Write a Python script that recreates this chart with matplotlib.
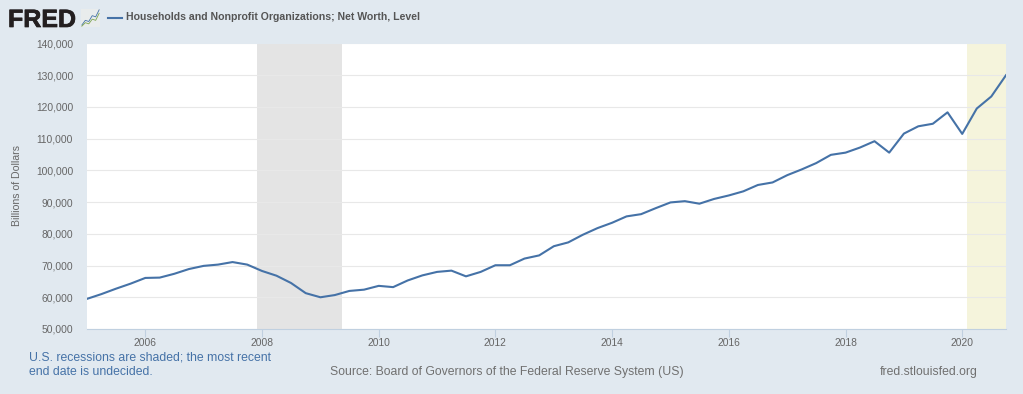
import pandas as pd
import matplotlib
matplotlib.use('Agg')
import matplotlib.pyplot as plt
import matplotlib.dates as mdates
import matplotlib.patheffects as pe
from matplotlib.ticker import FuncFormatter

plt.rcParams['font.family'] = ['Liberation Sans', 'DejaVu Sans']

quarters = pd.date_range('2005-01-01', '2020-10-01', freq='QS')
net_worth = [59500, 61000, 62700, 64300, 66100, 66200, 67400, 68900,
             69900, 70300, 71100, 70300, 68300, 66800, 64500, 61300,
             60000, 60700, 62000, 62400, 63600, 63200, 65300, 66900,
             68000, 68400, 66600, 68000, 70100, 70100, 72200, 73200,
             76100, 77300, 79700, 81800, 83500, 85500, 86200, 88100,
             89900, 90300, 89500, 91000, 92100, 93400, 95400, 96200,
             98500, 100300, 102300, 104900, 105600, 107200, 109200, 105600,
             111600, 113900, 114700, 118300, 111500, 119500, 123300, 130000]
recession = ['2007-12-01', '2009-05-15']
undecided = ['2020-02-01', '2020-10-01']
year_ticks = [2006, 2008, 2010, 2012, 2014, 2016, 2018, 2020]
y_ticks = [50000, 60000, 70000, 80000, 90000, 100000, 110000, 120000, 130000, 140000]

# small logo chart lines
logo_blue = [1, 3, 2.5, 5, 4.5, 7.5]
logo_green = [0.5, 2, 1.5, 3.5, 3, 6]

W, H = 1023, 394
BG = '#e1e9f0'
fig = plt.figure(figsize=(W / 100, H / 100), dpi=100, facecolor=BG)
ax = fig.add_axes([87 / W, 1 - 329 / H, (1006 - 87) / W, (329 - 43.5) / H])

ax.axvspan(pd.Timestamp(recession[0]), pd.Timestamp(recession[1]), color='#e4e4e4', lw=0, zorder=1)
ax.axvspan(pd.Timestamp(undecided[0]), pd.Timestamp(undecided[1]), color='#f5f4dc', lw=0, zorder=1)
ax.plot(quarters, net_worth, color='#4572a7', lw=1.5, zorder=3)

ax.set_xlim(pd.Timestamp('2005-01-01'), pd.Timestamp('2020-10-01'))
ax.set_ylim(50000, 140000)
ax.set_yticks(y_ticks)
ax.yaxis.set_major_formatter(FuncFormatter(lambda v, p: f'{int(v):,}'))
ax.set_xticks([pd.Timestamp(f'{y}-01-01') for y in year_ticks])
ax.xaxis.set_major_formatter(mdates.DateFormatter('%Y'))
ax.grid(axis='y', color='#e8e8e8', lw=0.8, zorder=2)
ax.set_axisbelow(False)
for s in ['top', 'right', 'left']:
    ax.spines[s].set_visible(False)
ax.spines['bottom'].set_color('#c0d0e0')
ax.spines['bottom'].set_linewidth(0.8)
ax.tick_params(axis='y', length=0, labelsize=7.4, labelcolor='#666666', pad=10)
ax.tick_params(axis='x', length=6, width=0.8, color='#c0d0e0', labelsize=7.4, labelcolor='#666666', pad=0.5)
ax.set_ylabel('Billions of Dollars', fontsize=7.55, color='#666666')
ax.yaxis.set_label_coords(-(87 - 22.5) / 919, 0.502)

# header
fig.text(8 / W, 1 - 27 / H, 'FRED', fontsize=18, fontweight='bold', color='#231f20', va='baseline',
         path_effects=[pe.withStroke(linewidth=0.5, foreground='#231f20')])
logo = fig.add_axes([81 / W, 1 - 27 / H, 19 / W, 18 / H], facecolor='#e9ecec')
logo.plot(logo_blue, color='#4572a7', lw=0.6)
logo.plot(logo_green, color='#7fa650', lw=0.6)
logo.set_xticks([])
logo.set_yticks([])
for s in logo.spines.values():
    s.set_visible(False)
fig.add_artist(plt.Line2D([108 / W, 122 / W], [1 - 17.5 / H] * 2, color='#4572a7', lw=1.5))
fig.text(126.5 / W, 1 - 17.5 / H, 'Households and Nonprofit Organizations; Net Worth, Level',
         fontsize=7.55, fontweight='bold', color='#555555', va='center')

# footer
fig.text(29 / W, 1 - 357 / H, 'U.S. recessions are shaded; the most recent', fontsize=8.8, color='#4572a7', va='center')
fig.text(29 / W, 1 - 372 / H, 'end date is undecided.', fontsize=8.8, color='#4572a7', va='center')
fig.text(330.5 / W, 1 - 372 / H, 'Source: Board of Governors of the Federal Reserve System (US)',
         fontsize=8.8, color='#707070', va='center')
fig.text(978 / W, 1 - 372 / H, 'fred.stlouisfed.org', fontsize=8.8, color='#707070', va='center', ha='right')

fig.savefig('out.png', dpi=100, facecolor=BG)
